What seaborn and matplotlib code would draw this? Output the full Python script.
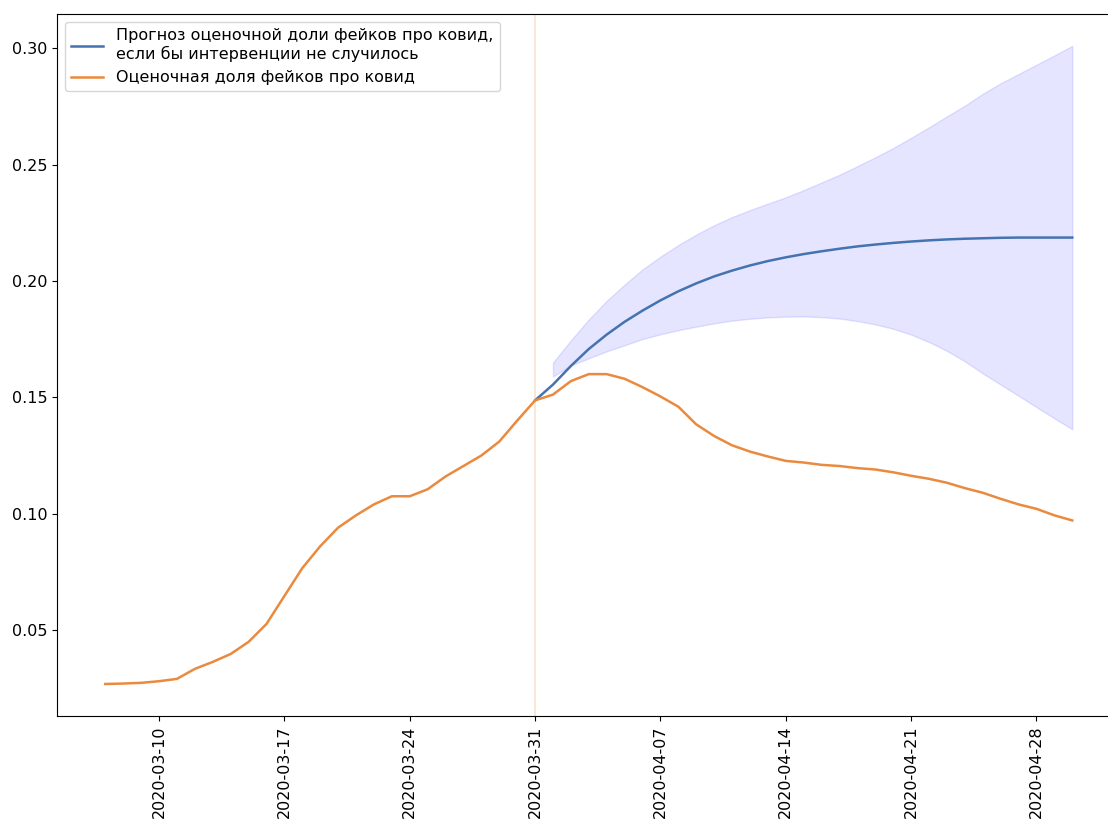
import numpy as np
import pandas as pd
import matplotlib
matplotlib.use("Agg")
import matplotlib.pyplot as plt
import matplotlib.dates as mdates
import seaborn as sns

# observed share of covid fakes, 2020-03-07 .. 2020-04-30
dates = pd.date_range("2020-03-07", "2020-04-30", freq="D")
observed = [
    0.0268, 0.0270, 0.0273, 0.0280, 0.0290, 0.0333, 0.0363, 0.0397, 0.0449, 0.0526,
    0.0646, 0.0766, 0.0860, 0.0940, 0.0993, 0.1040, 0.1075, 0.1075, 0.1105, 0.1160,
    0.1205, 0.1250, 0.1310, 0.1400, 0.1487, 0.1512, 0.1570, 0.1600, 0.1600, 0.1580,
    0.1544, 0.1504, 0.1460, 0.1384, 0.1334, 0.1294, 0.1267, 0.1246, 0.1227, 0.1220,
    0.1210, 0.1205, 0.1196, 0.1190, 0.1178, 0.1163, 0.1150, 0.1133, 0.1110, 0.1090,
    0.1064, 0.1040, 0.1021, 0.0993, 0.0971,
]

# forecast without intervention, 2020-03-31 .. 2020-04-30
fc_dates = pd.date_range("2020-03-31", "2020-04-30", freq="D")
forecast = [
    0.1487, 0.1555, 0.1635, 0.1708, 0.1770, 0.1825, 0.1873, 0.1917, 0.1956, 0.1990,
    0.2020, 0.2045, 0.2067, 0.2086, 0.2102, 0.2116, 0.2128, 0.2139, 0.2149, 0.2157,
    0.2164, 0.2170, 0.2175, 0.2179, 0.2182, 0.2184, 0.2186, 0.2187, 0.2187, 0.2187,
    0.2187,
]

# confidence band, 2020-04-01 .. 2020-04-30
ci_dates = pd.date_range("2020-04-01", "2020-04-30", freq="D")
ci_upper = [
    0.1650, 0.1745, 0.1835, 0.1915, 0.1985, 0.2050, 0.2105, 0.2155, 0.2200, 0.2240,
    0.2275, 0.2305, 0.2333, 0.2360, 0.2391, 0.2424, 0.2457, 0.2494, 0.2532, 0.2572,
    0.2616, 0.2661, 0.2708, 0.2754, 0.2805, 0.2850, 0.2890, 0.2930, 0.2970, 0.3011,
]
ci_lower = [
    0.1590, 0.1637, 0.1668, 0.1698, 0.1724, 0.1751, 0.1771, 0.1789, 0.1804, 0.1818,
    0.1830, 0.1838, 0.1844, 0.1847, 0.1848, 0.1845, 0.1839, 0.1828, 0.1814, 0.1795,
    0.1770, 0.1738, 0.1700, 0.1655, 0.1603, 0.1555, 0.1507, 0.1458, 0.1410, 0.1363,
]

label_fc = "Прогноз оценочной доли фейков про ковид,\nесли бы интервенции не случилось"
label_obs = "Оценочная доля фейков про ковид"

blue = "#4473b0"
orange = "#ea8a3f"

fig = plt.figure(figsize=(11.08, 8.21), dpi=100)
ax = fig.add_axes([0.0514, 0.128, 0.96, 0.855])

ax.axvline(pd.Timestamp("2020-03-31"), color=orange, alpha=0.2, lw=1.5)
sns.lineplot(x=fc_dates, y=forecast, ax=ax, color=blue, lw=1.8, label=label_fc)
sns.lineplot(x=dates, y=observed, ax=ax, color=orange, lw=1.8, label=label_obs)
ax.fill_between(ci_dates, ci_lower, ci_upper, color="blue", alpha=0.1)

ax.set_xticks(pd.date_range("2020-03-10", "2020-04-28", freq="7D"))
ax.xaxis.set_major_formatter(mdates.DateFormatter("%Y-%m-%d"))
plt.setp(ax.get_xticklabels(), rotation=90)
ax.tick_params(labelsize=11.5)
ax.set_xlabel("")
ax.set_ylabel("")
ax.spines["right"].set_visible(False)
ax.legend(loc="upper left", fontsize=11.5)

fig.savefig("out.png", dpi=100)
